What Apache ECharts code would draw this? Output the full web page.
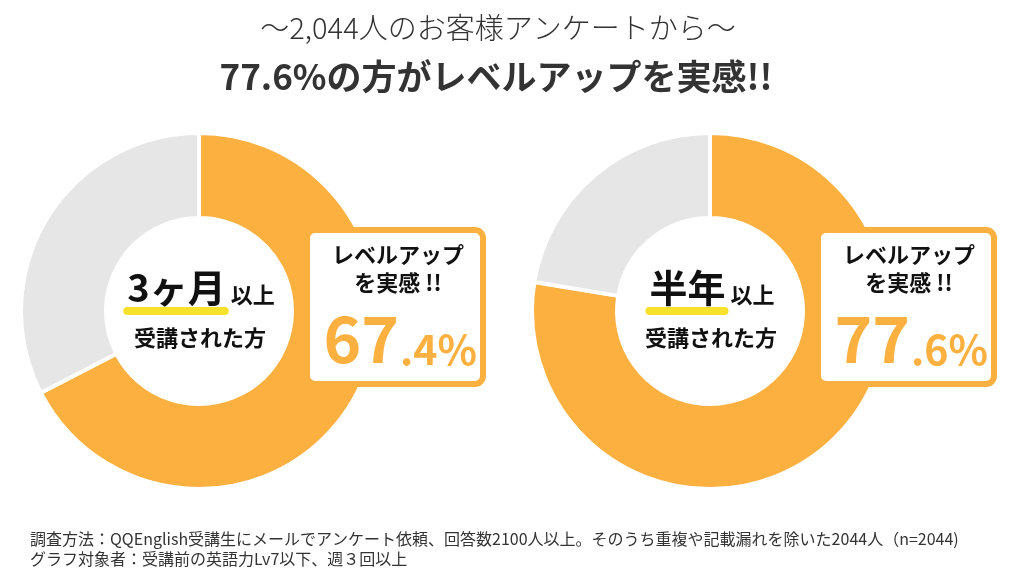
<!DOCTYPE html>
<html><head><meta charset="utf-8">
<script src="https://cdn.jsdelivr.net/npm/echarts@6/dist/echarts.min.js"></script>
<style>html,body{margin:0;padding:0;background:#fff}#c{width:1020px;height:580px}</style>
</head><body><div id="c"></div>
<script>
// ---- data ----
const subtitleText = '〜2,044人のお客様アンケートから〜';
const titleText = '77.6%の方がレベルアップを実感!!';
const periods = ['3ヶ月', '半年'];
const periodSuffix = '以上';
const periodLine2 = '受講された方';
const sliceNames = ['レベルアップを実感', 'その他'];
const improvedPct = [67.4, 77.6];
const otherPct = [32.6, 22.4];
const boxLine1 = 'レベルアップ';
const boxLine2 = 'を実感 !!';
const footnotes = [
  '調査方法：QQEnglish受講生にメールでアンケート依頼、回答数2100人以上。そのうち重複や記載漏れを除いた2044人（n=2044)',
  'グラフ対象者：受講前の英語力Lv7以下、週３回以上'
];

// ---- style ----
const ORANGE = '#FBB040', GREY = '#E6E6E6', YELLOW = '#F6E22B', DARK = '#333333';
const FONT = '"Noto Sans CJK JP", "Noto Sans", sans-serif';
const centers = [[199, 311], [710, 311]];

const mctx = document.createElement('canvas').getContext('2d');
function textWidth(txt, size, weight) {
  mctx.font = weight + ' ' + size + 'px ' + FONT;
  return mctx.measureText(txt).width;
}

const chart = echarts.init(document.getElementById('c'), null, {renderer: 'canvas'});

const elements = [
  {type: 'text', z: 100, x: 498, y: 28, style: {text: subtitleText, font: '300 29px ' + FONT, fill: DARK, align: 'center', verticalAlign: 'middle'}},
  {type: 'text', z: 100, x: 496, y: 77, style: {text: titleText, font: 'bold 35px ' + FONT, fill: DARK, align: 'center', verticalAlign: 'middle'}},
  {type: 'text', z: 100, x: 30, y: 539, style: {text: footnotes[0], font: '16px ' + FONT, fill: DARK, align: 'left', verticalAlign: 'middle'}},
  {type: 'text', z: 100, x: 30, y: 559, style: {text: footnotes[1], font: '16px ' + FONT, fill: DARK, align: 'left', verticalAlign: 'middle'}}
];

periods.forEach((p, i) => {
  const [cx, cy] = centers[i];
  const wb = textWidth(p, 38, 'bold');
  const ws = textWidth(periodSuffix, 22, 'bold');
  const total = wb + 5 + ws;
  const sx = cx + 2 - total / 2;
  elements.push(
    {type: 'rect', z: 100, shape: {x: sx - 4, y: cy - 4, width: wb + 7, height: 8, r: 4}, style: {fill: YELLOW}},
    {type: 'text', z: 101, x: sx, y: cy - 23, style: {text: p, font: 'bold 38px ' + FONT, fill: '#111', align: 'left', verticalAlign: 'middle'}},
    {type: 'text', z: 101, x: sx + wb + 5, y: cy - 16, style: {text: periodSuffix, font: 'bold 22px ' + FONT, fill: '#111', align: 'left', verticalAlign: 'middle'}},
    {type: 'text', z: 101, x: cx + 1, y: cy + 27, style: {text: periodLine2, font: 'bold 22px ' + FONT, fill: '#111', align: 'center', verticalAlign: 'middle'}},
    // callout box
    {type: 'rect', z: 100, shape: {x: cx + 108, y: cy - 81, width: 176, height: 154, r: 8}, style: {fill: '#fff', stroke: ORANGE, lineWidth: 6}},
    {type: 'text', z: 101, x: cx + 199, y: cy - 56, style: {text: boxLine1, font: 'bold 22px ' + FONT, fill: '#111', align: 'center', verticalAlign: 'middle'}},
    {type: 'text', z: 101, x: cx + 199, y: cy - 28, style: {text: boxLine2, font: 'bold 22px ' + FONT, fill: '#111', align: 'center', verticalAlign: 'middle'}}
  );
  const parts = improvedPct[i].toFixed(1).split('.');
  elements.push(
    {type: 'text', z: 101, x: cx + 200, y: cy + 28, style: {text: parts[0], font: 'bold 64px ' + FONT, fill: ORANGE, align: 'right', verticalAlign: 'middle'}},
    {type: 'text', z: 101, x: cx + 201, y: cy + 38, style: {text: '.' + parts[1] + '%', font: 'bold 41px ' + FONT, fill: ORANGE, align: 'left', verticalAlign: 'middle'}}
  );
});

chart.setOption({
  animation: false,
  backgroundColor: '#fff',
  series: periods.map((p, i) => ({
    type: 'pie',
    name: p,
    center: centers[i],
    radius: [93, 178],
    startAngle: 90,
    clockwise: true,
    silent: true,
    label: {show: false},
    labelLine: {show: false},
    itemStyle: {borderColor: '#fff', borderWidth: 4},
    data: [
      {name: sliceNames[0], value: improvedPct[i], itemStyle: {color: ORANGE}},
      {name: sliceNames[1], value: otherPct[i], itemStyle: {color: GREY}}
    ]
  })),
  graphic: {elements: elements}
});
</script></body></html>
